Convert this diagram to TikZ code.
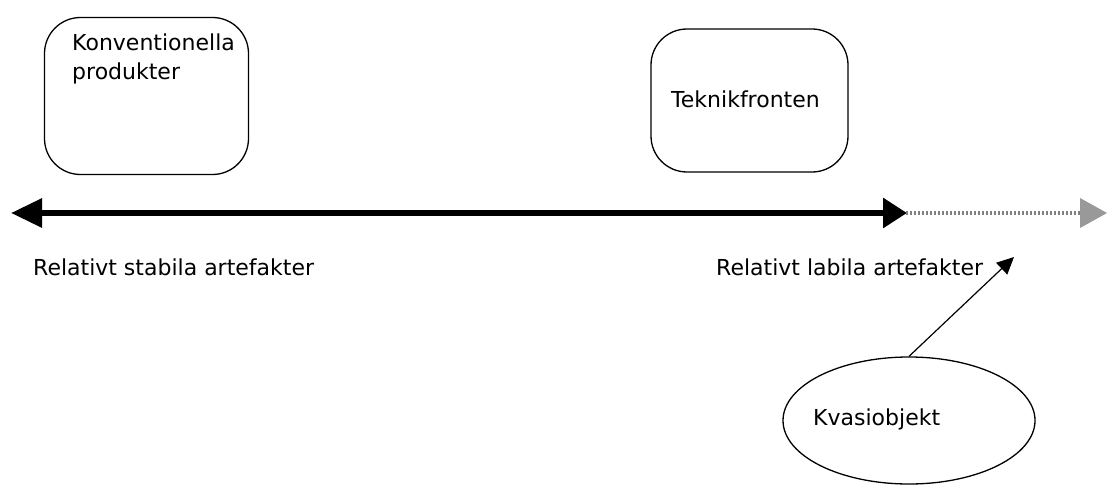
\documentclass[tikz,border=0pt]{standalone}
\usepackage{fontspec}
\setmainfont{DejaVu Sans}
\usetikzlibrary{arrows.meta,shapes.geometric}
\begin{document}
\begin{tikzpicture}[x=1pt,y=-1pt,
  rbox/.style={draw,line width=1.3pt,rounded corners=36pt,inner sep=0pt},
  lbl/.style={anchor=base west,inner sep=0pt,font=\fontsize{22}{29}\selectfont},
  thick line/.style={line width=6pt},
  dotline/.style={line width=4pt,black!50,dash pattern=on 2pt off 2pt},
  thin arrow/.style={line width=1.2pt,-{Triangle[length=17pt,width=16pt]}}]
\useasboundingbox (0,0) rectangle (1107,484);
% boxes
\node[rbox,minimum width=204pt,minimum height=157pt] (konv) at (146.5,96) {};
\node[rbox,minimum width=197pt,minimum height=143pt] (tek) at (749.5,100.5) {};
\node[lbl,align=left] (konvt) at (72,80) {Konventionella\\produkter};
\node[lbl] (tekt) at (671,107) {Teknikfronten};
% main axis
\coordinate (L) at (11,213);
\coordinate (R) at (907,213);
\coordinate (D) at (1107,213);
\draw[thick line,{Triangle[length=31pt,width=28pt]}-{Triangle[length=24pt,width=29pt]}] (L) -- (R);
\path (R) ++(-1,0) coordinate (R1);
\path (D) ++(-27,0) coordinate (Dh);
\draw[dotline] (R1) -- (Dh);
\fill[black!40] (Dh) ++(0,-15) -- (D) -- ++(-27,15) -- cycle;
% labels
\node[lbl] (stab) at (33,275) {Relativt stabila artefakter};
\node[lbl] (lab) at (716,275) {Relativt labila artefakter};
% ellipse
\node[draw,ellipse,line width=1.3pt,minimum width=252pt,minimum height=127pt,inner sep=0pt] (kv) at (909,420.5) {};
\node[lbl] (kvt) at (813,425) {Kvasiobjekt};
\coordinate (tip) at (1014,257);
\draw[thin arrow] (kv.north) -- (tip);
\end{tikzpicture}
\end{document}
